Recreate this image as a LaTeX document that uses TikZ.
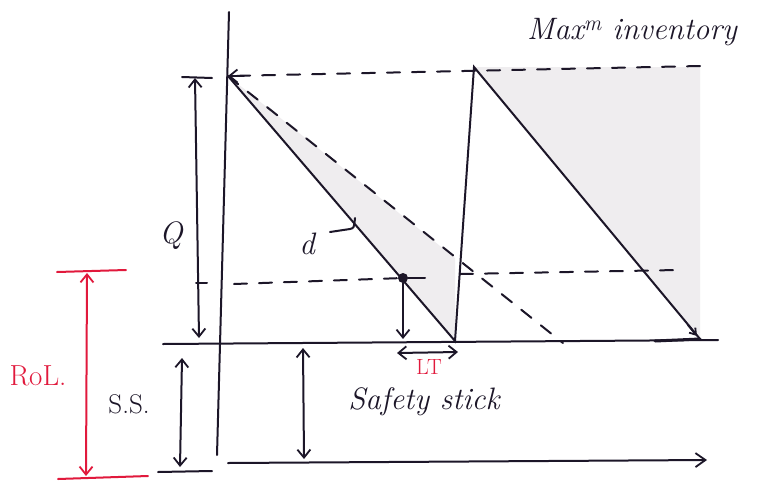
\documentclass[tikz,border=0pt]{standalone}
\usetikzlibrary{arrows.meta,calc}
\definecolor{pen}{RGB}{28,22,40}
\definecolor{redpen}{RGB}{225,25,60}
\definecolor{paleshade}{RGB}{239,237,239}
\tikzset{
  ln/.style={draw=pen, line width=2pt, line cap=round},
  dsh/.style={ln, dash pattern=on 13pt off 12pt},
  barb/.tip={Straight Barb[length=8pt,width=13pt,line width=1.8pt]},
  dim/.style={ln, barb-barb},
  downarr/.style={ln, -barb},
  lbl/.style={text=pen, font=\fontsize{31}{36}\selectfont\itshape, inner sep=0pt},
}
\begin{document}
\begin{tikzpicture}[x=1pt,y=-1pt]
\useasboundingbox[fill=white] (0,0) rectangle (773,482);

% key points
\coordinate (axTop) at (229,12);
\coordinate (axBot) at (217,455);
\coordinate (tA) at (228,463);
\coordinate (tB) at (707,460);
\coordinate (ssL) at (163,344);
\coordinate (ssR) at (718,340);
\coordinate (P1) at (228,76);
\coordinate (B1) at (455,341);
\coordinate (P2) at (474,67);
\coordinate (B2) at (700,339);
\coordinate (maxR) at (700,66);
\coordinate (slowEnd) at (563,343);
\coordinate (slowMid) at (455,258);
\coordinate (P2top) at (700,67);
\coordinate (P1r) at (244,76);

% light shading
\fill[paleshade] (P1) -- (slowMid) -- (B1) -- cycle;
\fill[paleshade] (P2) -- (P2top) -- (B2) -- cycle;

% axes
\draw[ln] (axTop) -- (axBot);
\draw[ln, -{Straight Barb[length=10pt,width=14pt,line width=1.8pt]}] (tA) -- (tB);
\draw[ln] (ssL) -- (ssR);
\coordinate (thkA) at (655,341);
\draw[ln, line width=3pt] (thkA) -- (B2);

% max inventory dashed line
\draw[dsh] (maxR) -- (P1);
\draw[ln, -barb] (P1r) -- (P1);

% slow-demand dashed line
\draw[dsh] (P1) -- (slowEnd);

% sawtooth
\draw[ln] (P1) -- (B1) -- (P2) -- (B2);
\coordinate (arrA) at (688,325);
\coordinate (arrB) at (697,336);
\draw[ln, -{Straight Barb[length=6pt,width=8pt,line width=1.8pt]}] (arrA) -- (arrB);

% reorder level dashed line
\coordinate (roL) at (234,284);
\node[circle, fill=pen, inner sep=0pt, minimum size=10pt] (rop) at (403,278) {};
\coordinate (roR1) at (460,274);
\coordinate (roR2) at (678,270);
\draw[dsh] (roL) -- (rop);
\draw[dsh] (roR1) -- (roR2);
\coordinate (ropTick) at (425,278);
\draw[ln] (rop) -- (ropTick);

% Q dimension
\coordinate (qTop) at (195,78);
\coordinate (qBot) at (199,338);
\coordinate (qT1) at (182,77);
\coordinate (qT2) at (212,78);
\coordinate (qM1) at (196,283);
\coordinate (qM2) at (207,283);
\draw[ln] (qT1) -- (qT2);
\draw[dim] (qTop) -- (qBot);
\draw[ln] (qM1) -- (qM2);
\node[lbl] (qlbl) at (171,236) {Q};

% d label with pointer
\node[lbl] (dlbl) at (307,244) {d};
\coordinate (dp1) at (330,232);
\coordinate (dp2) at (350,229);
\coordinate (dp3) at (355,218);
\draw[ln] (dp1) -- (dp2) .. controls (354,228) .. (dp3);

% reorder to safety stock arrow
\coordinate (ropBot) at (403,339);
\draw[downarr] (rop) -- (ropBot);

% lead time
\coordinate (ltL) at (397,353);
\coordinate (ltR) at (458,352);
\draw[dim] (ltL) -- (ltR);
\node[text=redpen, font=\fontsize{22}{26}\selectfont, inner sep=0pt] (ltlbl) at (429,367) {LT};

% safety stock (left)
\coordinate (ssTop) at (182,358);
\coordinate (ssBot) at (180,467);
\coordinate (ssB1) at (158,472);
\coordinate (ssB2) at (212,471);
\draw[ln] (ssB1) -- (ssB2);
\draw[dim] (ssTop) -- (ssBot);
\node[text=pen, font=\fontsize{27}{31}\selectfont, inner sep=0pt] (sslbl) at (129,404) {S.S.};

% safety stock (middle)
\coordinate (sfTop) at (303,348);
\coordinate (sfBot) at (304,459);
\draw[dim] (sfTop) -- (sfBot);
\node[lbl] (sflbl) at (424,402) {Safety stick};

% ROL
\coordinate (rT1) at (57,272);
\coordinate (rT2) at (126,270);
\coordinate (rB1) at (58,479);
\coordinate (rB2) at (148,476);
\coordinate (rTop) at (87,273);
\coordinate (rBot) at (86,476);
\draw[ln, draw=redpen] (rT1) -- (rT2);
\draw[ln, draw=redpen] (rB1) -- (rB2);
\draw[dim, draw=redpen] (rTop) -- (rBot);
\node[text=redpen, font=\fontsize{29}{33}\selectfont, inner sep=0pt] (rollbl) at (38,376) {RoL.};

% max inventory label
\node[lbl] (maxlbl) at (632,32) {Max\textsuperscript{m} inventory};
\end{tikzpicture}
\end{document}
